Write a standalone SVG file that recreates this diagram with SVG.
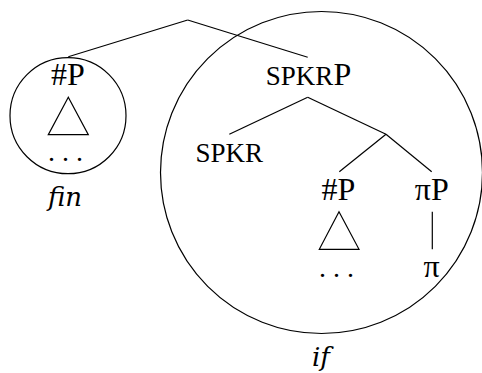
<svg xmlns="http://www.w3.org/2000/svg" width="482" height="373" viewBox="0 0 482 373">
<style>
text{font-family:"Liberation Serif","Times New Roman",serif;fill:#000;text-anchor:middle}
.l{font-size:32px}
.sc{font-size:27px}
.it{font-family:"DejaVu Serif",serif;font-size:26px;font-style:italic}
.dots{font-size:28px}
line,circle,polygon{stroke:#000;stroke-width:1.2;fill:none}
</style>
<rect width="482" height="373" fill="#fff"/>
<g id="connectors">
<line x1="187.7" y1="20" x2="68.3" y2="56.7"/>
<line x1="187.7" y1="20" x2="307.7" y2="57.3"/>
<line x1="307.7" y1="97.3" x2="229.3" y2="134.3"/>
<line x1="307.7" y1="97.3" x2="386" y2="134.3"/>
<line x1="386" y1="134.3" x2="339.3" y2="171.7"/>
<line x1="386" y1="134.3" x2="431.7" y2="171.7"/>
<line x1="432.3" y1="211.7" x2="432.3" y2="249.3"/>
</g>
<g id="fin-circle">
<circle cx="68" cy="115.7" r="58"/>
<text class="l" x="68" y="85">#P</text>
<polygon points="68.3,97.3 48.3,134.7 88.3,134.7"/>
<text class="dots" x="65.5" y="161">. . .</text>
<text class="it" x="65" y="206">fin</text>
</g>
<g id="if-circle">
<circle cx="321.5" cy="172.5" r="161"/>
<text class="it" x="321" y="366">if</text>
</g>
<g id="spkrp">
<text x="308.5" y="85"><tspan class="sc">SPKR</tspan><tspan class="l">P</tspan></text>
</g>
<g id="spkr">
<text class="sc" x="229.3" y="162.3">SPKR</text>
</g>
<g id="numP">
<text class="l" x="338.3" y="200">#P</text>
<polygon points="339,211.7 319.3,249.3 359,249.3"/>
<text class="dots" x="336.5" y="276.5">. . .</text>
</g>
<g id="piP">
<text class="l" x="431.7" y="200">πP</text>
<text class="l" x="431.7" y="276.7">π</text>
</g>
</svg>
